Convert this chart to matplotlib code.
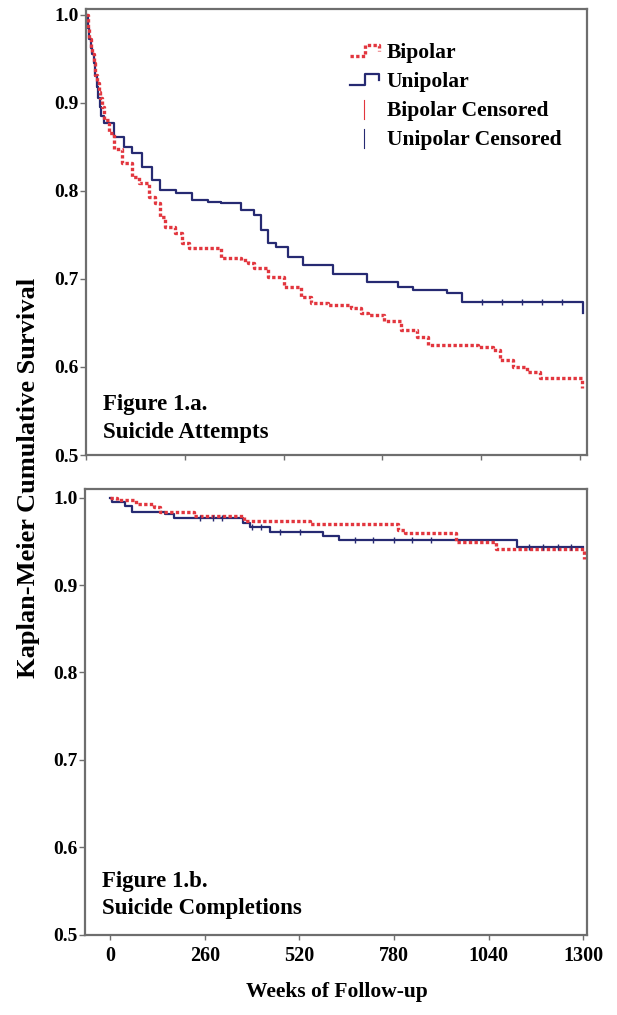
import matplotlib
matplotlib.use('Agg')
import matplotlib.pyplot as plt
import numpy as np
from matplotlib.legend_handler import HandlerBase
from matplotlib.lines import Line2D

# Figure 1.a  suicide attempts (weeks, survival)
bip_att_t = [0, 4, 8, 12, 16, 20, 24, 28, 33, 37, 42, 47, 60, 73, 94, 120, 139, 165, 181, 194, 207,
             233, 252, 270, 356, 409, 427, 443, 479, 521, 566, 592, 637, 697, 723, 741, 783, 828,
             872, 899, 1030, 1072, 1090, 1124, 1161, 1195, 1305]
bip_att_s = [1.0, 0.985, 0.972, 0.962, 0.955, 0.945, 0.932, 0.922, 0.912, 0.905, 0.895, 0.88, 0.866,
             0.847, 0.832, 0.816, 0.809, 0.793, 0.786, 0.77, 0.759, 0.752, 0.741, 0.735, 0.724, 0.722,
             0.718, 0.7125, 0.702, 0.691, 0.68, 0.673, 0.67, 0.667, 0.661, 0.659, 0.652, 0.642, 0.634,
             0.625, 0.623, 0.619, 0.608, 0.6, 0.594, 0.587, 0.576]
uni_att_t = [0, 4, 8, 12, 16, 20, 24, 28, 32, 36, 40, 47, 73, 100, 120, 147, 173, 194, 238, 278, 320,
             356, 409, 443, 461, 480, 500, 532, 570, 650, 740, 820, 860, 950, 990, 1307]
uni_att_s = [1.0, 0.985, 0.972, 0.962, 0.955, 0.945, 0.93, 0.918, 0.905, 0.895, 0.885, 0.877, 0.861,
             0.85, 0.843, 0.827, 0.8125, 0.801, 0.798, 0.79, 0.787, 0.786, 0.778, 0.773, 0.756, 0.741,
             0.736, 0.725, 0.716, 0.705, 0.696, 0.691, 0.6875, 0.684, 0.674, 0.661]
uni_att_cens = [1043, 1095, 1148, 1200, 1252]
bip_att_cens = []

# Figure 1.b  suicide completions
bip_comp_t = [0, 20, 70, 120, 136, 230, 368, 550, 790, 809, 951, 1060, 1302]
bip_comp_s = [1.0, 0.997, 0.993, 0.989, 0.984, 0.979, 0.973, 0.970, 0.963, 0.959, 0.949, 0.941, 0.930]
uni_comp_t = [0, 5, 40, 60, 150, 175, 365, 385, 440, 586, 630, 1117, 1300]
uni_comp_s = [1.0, 0.995, 0.99, 0.984, 0.981, 0.977, 0.971, 0.966, 0.961, 0.956, 0.952, 0.944, 0.944]
uni_comp_cens = [248, 282, 307, 390, 414, 468, 521, 673, 721, 780, 829, 882, 1150, 1190, 1230, 1265]
bip_comp_cens = []

yticks = [0.5, 0.6, 0.7, 0.8, 0.9, 1.0]
xticks = [0, 260, 520, 780, 1040, 1300]

RED = '#e2363e'
BLUE = '#262a72'
SPINE = '#6e6e6e'
RED_LS = (0, (1, 0.7))

plt.rcParams['font.family'] = ['Liberation Serif', 'DejaVu Serif']
plt.rcParams['font.weight'] = 'bold'


def step_at(t, s, at):
    idx = np.searchsorted(t, at, side='right') - 1
    return np.array(s)[idx]


class StepHandler(HandlerBase):
    def __init__(self, kind):
        super().__init__()
        self.kind = kind

    def create_artists(self, legend, orig_handle, xdescent, ydescent, width, height, fontsize, trans):
        if self.kind == 'step':
            x = [-xdescent + f * width for f in (0, 0.5, 0.5, 0.95, 0.95)]
            y = [-ydescent + f * height for f in (0.15, 0.15, 0.9, 0.9, 0.45)]
        else:
            x = [-xdescent + 0.45 * width] * 2
            y = [-ydescent - 0.2 * height, -ydescent + 1.1 * height]
        l = Line2D(x, y)
        l.update_from(orig_handle)
        l.set_transform(trans)
        return [l]


def style(ax, xlim, ylim, xlabels):
    ax.set_xlim(*xlim)
    ax.set_ylim(*ylim)
    ax.set_yticks(yticks)
    ax.set_yticklabels(['%.1f' % v for v in yticks], fontsize=14, fontweight='bold')
    ax.set_xticks(xticks)
    if xlabels:
        ax.set_xticklabels([str(v) for v in xticks], fontsize=14.5, fontweight='bold')
    else:
        ax.set_xticklabels([])
    for sp in ax.spines.values():
        sp.set_color(SPINE)
        sp.set_linewidth(1.6)
    ax.tick_params(axis='y', length=4, width=1, color=SPINE, pad=1)
    ax.tick_params(axis='x', length=3.6, width=1, color=SPINE, pad=5)


fig = plt.figure(figsize=(6.17, 10.15), dpi=100)
ax1 = fig.add_axes([86 / 617, 1 - 455 / 1015, 501 / 617, 446 / 1015])
ax2 = fig.add_axes([85 / 617, 1 - 934.5 / 1015, 502 / 617, 446 / 1015])

# top panel
ax1.step(uni_att_t, uni_att_s, where='post', color=BLUE, lw=1.6)
ax1.step(bip_att_t, bip_att_s, where='post', color=RED, lw=2.4, ls=RED_LS)
ax1.plot(uni_att_cens, step_at(uni_att_t, uni_att_s, uni_att_cens), ls='none', marker='|',
         ms=5, mew=1, color=BLUE)
if bip_att_cens:
    ax1.plot(bip_att_cens, step_at(bip_att_t, bip_att_s, bip_att_cens), ls='none', marker='|',
             ms=5, mew=1, color=RED)
style(ax1, (0, 1318), (0.5, 1.0065), False)
ax1.text(0.034, 0.136, 'Figure 1.a.\nSuicide Attempts', transform=ax1.transAxes, fontsize=16.5,
         fontweight='bold', va='top', ha='left', linespacing=1.4)

h_bip = Line2D([], [], color=RED, lw=2.4, ls=RED_LS)
h_uni = Line2D([], [], color=BLUE, lw=1.6)
h_bipc = Line2D([], [], color=RED, lw=0.8)
h_unic = Line2D([], [], color=BLUE, lw=0.8)
leg = ax1.legend([h_bip, h_uni, h_bipc, h_unic],
                 ['Bipolar', 'Unipolar', 'Bipolar Censored', 'Unipolar Censored'],
                 handler_map={h_bip: StepHandler('step'), h_uni: StepHandler('step'),
                              h_bipc: StepHandler('cens'), h_unic: StepHandler('cens')},
                 loc='upper left', bbox_to_anchor=((350 - 86) / 501, (455 - 43) / 446),
                 frameon=False, borderpad=0, borderaxespad=0, handlelength=1.4,
                 handletextpad=0.3, labelspacing=0.42, prop={'size': 15.5, 'weight': 'bold'})

# bottom panel
ax2.step(uni_comp_t, uni_comp_s, where='post', color=BLUE, lw=1.6)
ax2.step(bip_comp_t, bip_comp_s, where='post', color=RED, lw=2.4, ls=RED_LS)
ax2.plot(uni_comp_cens, step_at(uni_comp_t, uni_comp_s, uni_comp_cens), ls='none', marker='|',
         ms=5, mew=1, color=BLUE)
if bip_comp_cens:
    ax2.plot(bip_comp_cens, step_at(bip_comp_t, bip_comp_s, bip_comp_cens), ls='none', marker='|',
             ms=5, mew=1, color=RED)
style(ax2, (-69, 1310), (0.5, 1.0105), True)
ax2.text(0.034, 0.143, 'Figure 1.b.\nSuicide Completions', transform=ax2.transAxes, fontsize=16.5,
         fontweight='bold', va='top', ha='left', linespacing=1.4)

fig.text(29 / 617, 1 - 478 / 1015, 'Kaplan-Meier Cumulative Survival', rotation=90,
         va='center', ha='center', fontsize=19, fontweight='bold')
fig.text(337 / 617, 1 - 992 / 1015, 'Weeks of Follow-up', va='center', ha='center',
         fontsize=15.5, fontweight='bold')

fig.savefig('out.png', dpi=100)
